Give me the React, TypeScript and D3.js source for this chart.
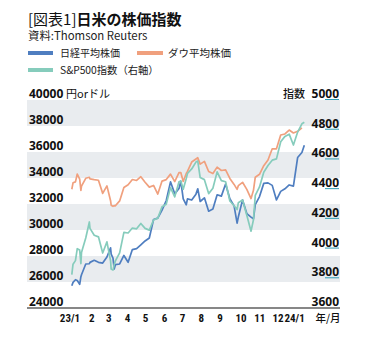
import React from "react";
import * as d3 from "d3";

const dates = [
  "2023-01-04", "2023-01-06", "2023-01-10", "2023-01-13", "2023-01-17", "2023-01-19", "2023-01-20", "2023-01-27",
  "2023-02-02", "2023-02-03", "2023-02-10", "2023-02-17", "2023-02-24",
  "2023-03-03", "2023-03-09", "2023-03-10", "2023-03-13", "2023-03-15", "2023-03-17", "2023-03-24", "2023-03-31",
  "2023-04-07", "2023-04-14", "2023-04-21", "2023-04-28",
  "2023-05-05", "2023-05-12", "2023-05-19", "2023-05-26",
  "2023-06-02", "2023-06-09", "2023-06-16", "2023-06-23", "2023-06-30",
  "2023-07-03", "2023-07-07", "2023-07-12", "2023-07-14", "2023-07-21", "2023-07-28", "2023-07-31",
  "2023-08-04", "2023-08-11", "2023-08-18", "2023-08-25",
  "2023-09-01", "2023-09-08", "2023-09-15", "2023-09-22", "2023-09-29",
  "2023-10-04", "2023-10-06", "2023-10-13", "2023-10-20", "2023-10-27", "2023-10-31",
  "2023-11-03", "2023-11-10", "2023-11-17", "2023-11-24",
  "2023-12-01", "2023-12-08", "2023-12-15", "2023-12-22", "2023-12-29",
  "2024-01-05", "2024-01-12", "2024-01-19", "2024-01-23",
];

const nikkei = [
  25717, 25974, 26175, 26120, 25822, 26405, 26553, 27383,
  27402, 27509, 27671, 27514, 27454,
  27927, 28623, 28144, 27832, 27000, 27334, 27385, 28041,
  27518, 28493, 28564, 28856,
  29157, 29388, 30808, 30916,
  31524, 32265, 33706, 32781, 33189,
  33753, 32388, 31943, 32391, 32304, 32759, 33172,
  32192, 32474, 31451, 31624,
  32711, 32607, 33534, 32403, 31858,
  30527, 30995, 32316, 31260, 30992, 30859,
  31950, 32569, 33586, 33626,
  33432, 32308, 32971, 33170, 33464,
  33377, 35578, 35964, 36517,
];

const dow = [
  33136, 33631, 33704, 34303, 33910, 33045, 33375, 33978,
  34054, 33926, 33869, 33827, 32817,
  33391, 32254, 31910, 31819, 31875, 31862, 32238, 33274,
  33485, 33886, 33809, 34098,
  33674, 33300, 33427, 32764,
  33763, 33877, 34299, 33727, 34408,
  34418, 33734, 34347, 34509, 35228, 35459, 35560,
  35066, 35281, 34500, 34346,
  34838, 34577, 34618, 33964, 33508,
  33129, 33407, 33670, 33127, 32418, 33053,
  34061, 34283, 34947, 35390,
  36245, 36248, 37306, 37385, 37690,
  37466, 37593, 37863, null,
];

const sp500 = [
  3824, 3895, 3919, 3999, 3990, 3899, 3973, 4071,
  4179, 4136, 4090, 4079, 3970,
  4045, 3918, 3862, 3855, 3892, 3917, 3971, 4109,
  4105, 4138, 4133, 4169,
  4136, 4124, 4192, 4205,
  4282, 4299, 4410, 4348, 4450,
  4455, 4399, 4472, 4505, 4536, 4582, 4589,
  4478, 4464, 4370, 4406,
  4516, 4457, 4450, 4320, 4288,
  4263, 4308, 4327, 4224, 4117, 4194,
  4358, 4415, 4514, 4559,
  4595, 4604, 4719, 4755, 4770,
  4697, 4784, 4840, 4850,
];

const leftTicks = [24000, 26000, 28000, 30000, 32000, 34000, 36000, 38000, 40000];
const rightTicks = [3600, 3800, 4000, 4200, 4400, 4600, 4800, 5000];
const monthTicks = [
  "2023-01-01", "2023-02-01", "2023-03-01", "2023-04-01", "2023-05-01", "2023-06-01", "2023-07-01",
  "2023-08-01", "2023-09-01", "2023-10-01", "2023-11-01", "2023-12-01", "2024-01-01",
];
const monthLabels = ["23/1", "2", "3", "4", "5", "6", "7", "8", "9", "10", "11", "12", "24/1"];

const seriesNames = ["日経平均株価", "ダウ平均株価", "S&P500指数（右軸）"];
const COLORS = { nikkei: "#4f7ec0", dow: "#f0a07e", sp: "#86ccbc" };

const NUM_FONT = "'Open Sans', 'Noto Sans', sans-serif";
const JP_FONT = "'Noto Sans CJK JP', 'Noto Sans', sans-serif";
const NARROW_FONT = "'Liberation Sans Narrow', 'Roboto Condensed', 'Open Sans', sans-serif";

export default function App() {
  const W = 366, H = 339;
  const plotL = 27, plotR = 340, plotT = 100, plotB = 308;
  const parse = d3.timeParse("%Y-%m-%d");
  const dts = dates.map((d) => parse(d) as Date);

  const x = d3.scaleTime().domain([parse("2023-01-01") as Date, parse("2024-01-01") as Date]).range([70, 291]);
  const yL = d3.scaleLinear().domain([24000, 40000]).range([plotB, plotT]);
  const yR = d3.scaleLinear().domain([3600, 5000]).range([plotB, plotT]);

  const mkLine = (vals: (number | null)[], y: d3.ScaleLinear<number, number>) =>
    d3
      .line<number>()
      .defined((i) => vals[i] != null)
      .x((i) => x(dts[i]))
      .y((i) => y(vals[i] as number))(d3.range(vals.length)) || "";

  const bands = [1, 3, 5, 7].map((i) => ({ y0: yL(leftTicks[i + 1]), y1: yL(leftTicks[i]) }));

  return (
    <svg width={W} height={H} style={{ position: "absolute", left: 0, top: 0, background: "#fff" }}>
      {/* Title */}
      <text x={28} y={25} fontFamily={JP_FONT} fontSize={15} fill="#111">
        <tspan fontWeight={400}>[図表1]</tspan>
        <tspan fontWeight={700}>日米の株価指数</tspan>
      </text>
      <text x={28} y={39.5} fontFamily={JP_FONT} fontSize={11.4} fill="#222">
        資料:Thomson Reuters
      </text>

      {/* Legend */}
      <rect x={28} y={51} width={25} height={4} fill={COLORS.nikkei} />
      <text x={60} y={57} fontFamily={JP_FONT} fontSize={10} fill="#222">{seriesNames[0]}</text>
      <rect x={137} y={51} width={26} height={4} fill={COLORS.dow} />
      <text x={168} y={57} fontFamily={JP_FONT} fontSize={10.5} fill="#222">{seriesNames[1]}</text>
      <rect x={28} y={68} width={25} height={4} fill={COLORS.sp} />
      <text x={60} y={74} fontFamily={JP_FONT} fontSize={10.3} fill="#222">{seriesNames[2]}</text>

      {/* Bands */}
      {bands.map((b, i) => (
        <rect key={i} x={plotL} y={b.y0} width={plotR - plotL} height={b.y1 - b.y0} fill="#e9ecef" />
      ))}

      {/* Lines */}
      <path d={mkLine(nikkei, yL)} fill="none" stroke={COLORS.nikkei} strokeWidth={1.7} strokeLinejoin="round" />
      <path d={mkLine(dow, yL)} fill="none" stroke={COLORS.dow} strokeWidth={1.7} strokeLinejoin="round" />
      <path d={mkLine(sp500, yR)} fill="none" stroke={COLORS.sp} strokeWidth={1.7} strokeLinejoin="round" />

      {/* Left labels */}
      {leftTicks.map((v) => (
        <text key={v} x={29} y={yL(v) - 2} fontFamily={NUM_FONT} fontWeight={700} fontSize={12} fill="#111">
          {v}
        </text>
      ))}
      <text x={66} y={yL(40000) - 2} fontFamily={JP_FONT} fontSize={11} fill="#111">円orドル</text>

      {/* Right labels */}
      {rightTicks.map((v) => (
        <g key={v}>
          <text x={339} y={yR(v) - 2} textAnchor="end" fontFamily={NUM_FONT} fontWeight={700} fontSize={12} fill="#111">
            {v}
          </text>
          {v !== 3600 && <line x1={325} x2={339} y1={yR(v) - 0.5} y2={yR(v) - 0.5} stroke="#2f9db5" strokeWidth={1} />}
        </g>
      ))}
      <text x={305} y={yR(5000) - 2} textAnchor="end" fontFamily={JP_FONT} fontWeight={500} fontSize={11} fill="#111">指数</text>

      {/* X axis */}
      <line x1={plotL} x2={plotR} y1={plotB} y2={plotB} stroke="#111" strokeWidth={1.2} />
      {monthTicks.map((m, i) => {
        const lab = monthLabels[i];
        const xx = x(parse(m) as Date);
        const first = i === 0;
        const last = i === monthTicks.length - 1;
        return (
          <text
            key={m}
            x={first ? xx : last ? xx - 6.5 : xx + 0.2}
            y={322}
            textAnchor={first ? "middle" : "start"}
            fontFamily={NARROW_FONT}
            fontWeight={700}
            fontSize={11}
            fill="#111"
          >
            {lab}
          </text>
        );
      })}
      <text x={328} y={322} textAnchor="middle" fontFamily={JP_FONT} fontWeight={500} fontSize={10.5} fill="#111">年/月</text>
    </svg>
  );
}
